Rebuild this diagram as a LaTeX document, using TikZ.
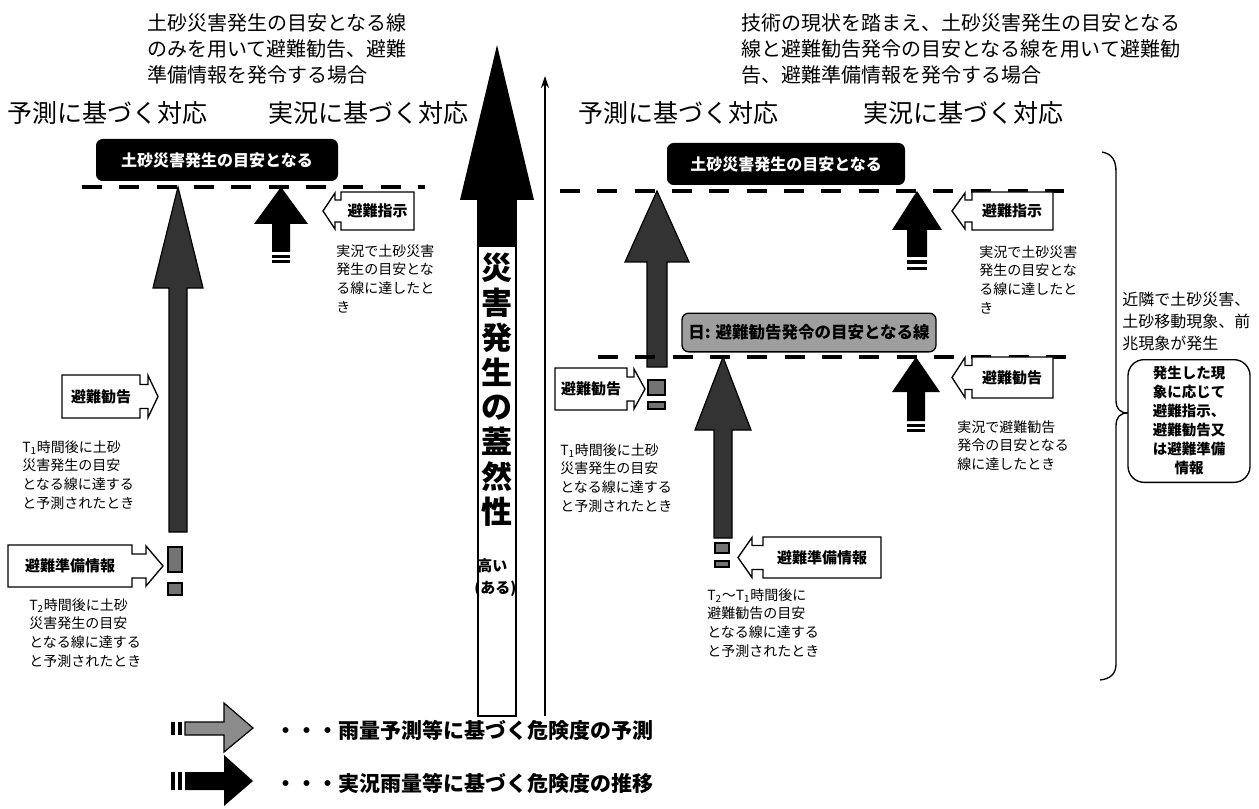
\documentclass[tikz,border=0pt]{standalone}
\usepackage{fontspec}
\setmainfont{Noto Sans CJK JP}
\usetikzlibrary{arrows.meta}
\newcommand\fpx[2]{\fontsize{\dimexpr #1pt*3/4\relax}{\dimexpr #2pt*3/4\relax}\selectfont}
\newcommand\UpArr[7]{%
  \path[#7] (#1,#2) -- ({#1+#4},#3) -- ({#1+#5},#3) -- ({#1+#5},#6) -- ({#1-#5},#6) -- ({#1-#5},#3) -- ({#1-#4},#3) -- cycle;}
\newcommand\RCall[8]{%
  \pgfmathsetmacro\cym{(#5+#6)/2}%
  \path[callout] (#1,#5) -- (#2,#5) -- (#2,{\cym-#7}) -- (#3,{\cym-#7}) -- (#3,{\cym-#8}) -- (#4,\cym) -- (#3,{\cym+#8}) -- (#3,{\cym+#7}) -- (#2,{\cym+#7}) -- (#2,#6) -- (#1,#6) -- cycle;}
\newcommand\LCall[8]{%
  \pgfmathsetmacro\cym{(#5+#6)/2}%
  \path[callout] (#4,#5) -- (#3,#5) -- (#3,{\cym-#7}) -- (#2,{\cym-#7}) -- (#2,{\cym-#8}) -- (#1,\cym) -- (#2,{\cym+#8}) -- (#2,{\cym+#7}) -- (#3,{\cym+#7}) -- (#3,#6) -- (#4,#6) -- cycle;}
\tikzset{
  fc/.style={fill=black!80, draw=black, line width=0.9pt},
  ac/.style={fill=black},
  tailbox/.style={fill=black!55, draw=black, line width=0.9pt},
  callout/.style={draw=black, fill=white, line width=1pt},
  dashln/.style={line width=2.4pt, dash pattern=on 15pt off 13pt},
  ttl/.style={anchor=north west, align=left, inner sep=0pt, font=\fpx{20}{26}},
  hd/.style={anchor=west, inner sep=0pt, font=\fpx{25}{30}},
  lbl/.style={inner sep=0pt, font=\fpx{15}{18}\bfseries},
  nt/.style={anchor=north west, align=left, inner sep=0pt, font=\fpx{14}{18.8}},
  blackbox/.style={rounded corners=5pt, fill=black, text=white, inner sep=0pt, font=\fpx{16}{18}\bfseries},
  graybox/.style={rounded corners=5pt, fill=black!38, draw=black, line width=1pt, inner sep=0pt, font=\fpx{16.5}{18}\bfseries},
  rbox/.style={rounded corners=12pt, draw=black, line width=1pt, align=center, inner sep=0pt, font=\fpx{14.5}{19}\bfseries},
  leg/.style={anchor=west, inner sep=0pt, font=\fpx{21}{24}\bfseries},
  axisln/.style={line width=1.6pt, -{Stealth[length=9pt,width=6pt]}},
}
\begin{document}
\begin{tikzpicture}[x=0.75pt,y=-0.75pt]
\useasboundingbox (0,0) rectangle (1259,809);
\fill[white] (0,0) rectangle (1259,809);

% ---------- titles ----------
\node[ttl] (tL) at (147,13) {土砂災害発生の目安となる線\\のみを用いて避難勧告、避難\\準備情報を発令する場合};
\node[ttl] (tR) at (741,13) {技術の現状を踏まえ、土砂災害発生の目安となる\\線と避難勧告発令の目安となる線を用いて避難勧\\告、避難準備情報を発令する場合};
\node[hd] (hL1) at (7,113) {予測に基づく対応};
\node[hd] (hL2) at (268,113) {実況に基づく対応};
\node[hd] (hR1) at (578,113) {予測に基づく対応};
\node[hd] (hR2) at (863,113) {実況に基づく対応};

% ---------- left panel ----------
\node[blackbox, minimum width=181.5pt, minimum height=31.5pt] (bbL) at (217,160) {土砂災害発生の目安となる};
\coordinate (dL1) at (82,187); \coordinate (dL2) at (425,187);
\draw[dashln] (dL1) -- (dL2);
\UpArr{178}{187}{288}{25}{9}{532}{fc}
\path[tailbox] (168,547) rectangle (182,572);
\path[tailbox] (168,583) rectangle (182,595);
\UpArr{281}{187}{224}{27}{9}{252}{ac}
\fill (272,255) rectangle (290,258);
\fill (272,260) rectangle (290,263);
\LCall{323}{335}{341}{414}{192}{230}{11}{18}
\node[lbl] (shijiL) at (377.5,211) {避難指示};
\node[nt] (jL) at (336,244) {実況で土砂災害\\発生の目安とな\\る線に達したと\\き};
\RCall{62}{140}{148}{158}{375}{418}{12}{21}
\node[lbl] (kankokuL) at (101,396.5) {避難勧告};
\node[nt] (t1L) at (22,440) {T\textsubscript{1}時間後に土砂\\災害発生の目安\\となる線に達する\\と予測されたとき};
\RCall{8}{132}{146}{163}{545}{587}{12}{20}
\node[lbl] (junbiL) at (70,566) {避難準備情報};
\node[nt] (t2L) at (29,598) {T\textsubscript{2}時間後に土砂\\災害発生の目安\\となる線に達する\\と予測されたとき};

% ---------- centre arrow ----------
\draw[line width=1.2pt, fill=white] (478,195) rectangle (516,716);
\fill (497,45) -- (534,200) -- (460,200) -- cycle;
\fill (478,198) rectangle (516,247);
\node[anchor=north, align=center, inner sep=0pt, font=\fpx{31}{34.8}\bfseries] (prob) at (497,253) {災\\害\\発\\生\\の\\蓋\\然\\性};
\node[anchor=west, inner sep=0pt, font=\fpx{15}{18}\bfseries] (high) at (477,566) {高い};
\node[anchor=west, inner sep=0pt, font=\fpx{15}{18}\bfseries] (aru) at (474,589) {(ある)};
\coordinate (axB) at (545,716); \coordinate (axT) at (545,76);
\draw[axisln] (axB) -- (axT);

% ---------- right panel ----------
\node[blackbox, minimum width=178.5pt, minimum height=31.5pt] (bbR) at (786,164) {土砂災害発生の目安となる};
\coordinate (dR1) at (560,191); \coordinate (dR2) at (1064,191);
\draw[dashln] (dR1) -- (dR2);
\UpArr{657}{191}{262}{32}{10}{367}{fc}
\path[tailbox] (648,380) rectangle (665,395);
\path[tailbox] (648,402) rectangle (665,409);
\UpArr{917}{191}{230}{25}{10}{257}{ac}
\fill (907,260) rectangle (927,264);
\fill (907,267) rectangle (927,270);
\LCall{952}{965}{972}{1053}{192}{230}{11}{18}
\node[lbl] (shijiR) at (1012,211) {避難指示};
\node[nt] (jR) at (979,245) {実況で土砂災害\\発生の目安とな\\る線に達したと\\き};
\RCall{555}{627}{634}{645}{368}{410}{12}{20}
\node[lbl] (kankokuRL) at (591,389) {避難勧告};
\node[nt] (t1R) at (560,443) {T\textsubscript{1}時間後に土砂\\災害発生の目安\\となる線に達する\\と予測されたとき};

\coordinate (dS1) at (598,357); \coordinate (dS2) at (1073,357);
\draw[dashln] (dS1) -- (dS2);
\node[graybox, minimum width=190.5pt, minimum height=29pt] (gb) at (809,332.5) {日: 避難勧告発令の目安となる線};
\UpArr{723}{357}{430}{28}{9}{538}{fc}
\path[tailbox] (715,543) rectangle (729,553);
\path[tailbox] (715,561) rectangle (729,567);
\LCall{738}{752}{763}{881}{537}{578}{12}{20}
\node[lbl] (junbiR) at (822,557.5) {避難準備情報};
\node[nt] (t21R) at (707,588) {T\textsubscript{2}～T\textsubscript{1}時間後に\\避難勧告の目安\\となる線に達する\\と予測されたとき};
\UpArr{916}{357}{392}{24}{9}{421}{ac}
\fill (907,424) rectangle (925,427);
\fill (907,429) rectangle (925,432);
\LCall{952}{965}{972}{1053}{357}{398}{12}{20}
\node[lbl] (kankokuR) at (1012,377.5) {避難勧告};
\node[nt] (jR2) at (957,420) {実況で避難勧告\\発令の目安となる\\線に達したとき};

% brace
\draw[line width=1pt] (1102,152) .. controls (1112,154) and (1116,160) .. (1116,172) -- (1116,400) .. controls (1116,409) and (1120,413) .. (1128,413) .. controls (1120,413) and (1116,417) .. (1116,426) -- (1116,664) .. controls (1116,674) and (1110,679) .. (1100,680);
\node[anchor=north west, align=left, inner sep=0pt, font=\fpx{16}{22}] (near) at (1122,292) {近隣で土砂災害、\\土砂移動現象、前\\兆現象が発生};
\node[rbox, minimum width=91.5pt, minimum height=92pt] (rb) at (1189,421) {発生した現\\象に応じて\\避難指示、\\避難勧告又\\は避難準備\\情報};

% ---------- legend ----------
\fill (171,722) rectangle (175,735);
\fill (178,722) rectangle (182,735);
\path[fc, fill=black!45] (185,722) -- (224,722) -- (224,703) -- (253,728) -- (224,752) -- (224,735) -- (185,735) -- cycle;
\fill (171,772) rectangle (175,790);
\fill (178,772) rectangle (182,790);
\path[ac] (185,772) -- (224,772) -- (224,755) -- (253,781) -- (224,806) -- (224,790) -- (185,790) -- cycle;
\node[leg] (lg1) at (275,730) {・・・雨量予測等に基づく危険度の予測};
\node[leg] (lg2) at (275,783) {・・・実況雨量等に基づく危険度の推移};
\end{tikzpicture}
\end{document}
